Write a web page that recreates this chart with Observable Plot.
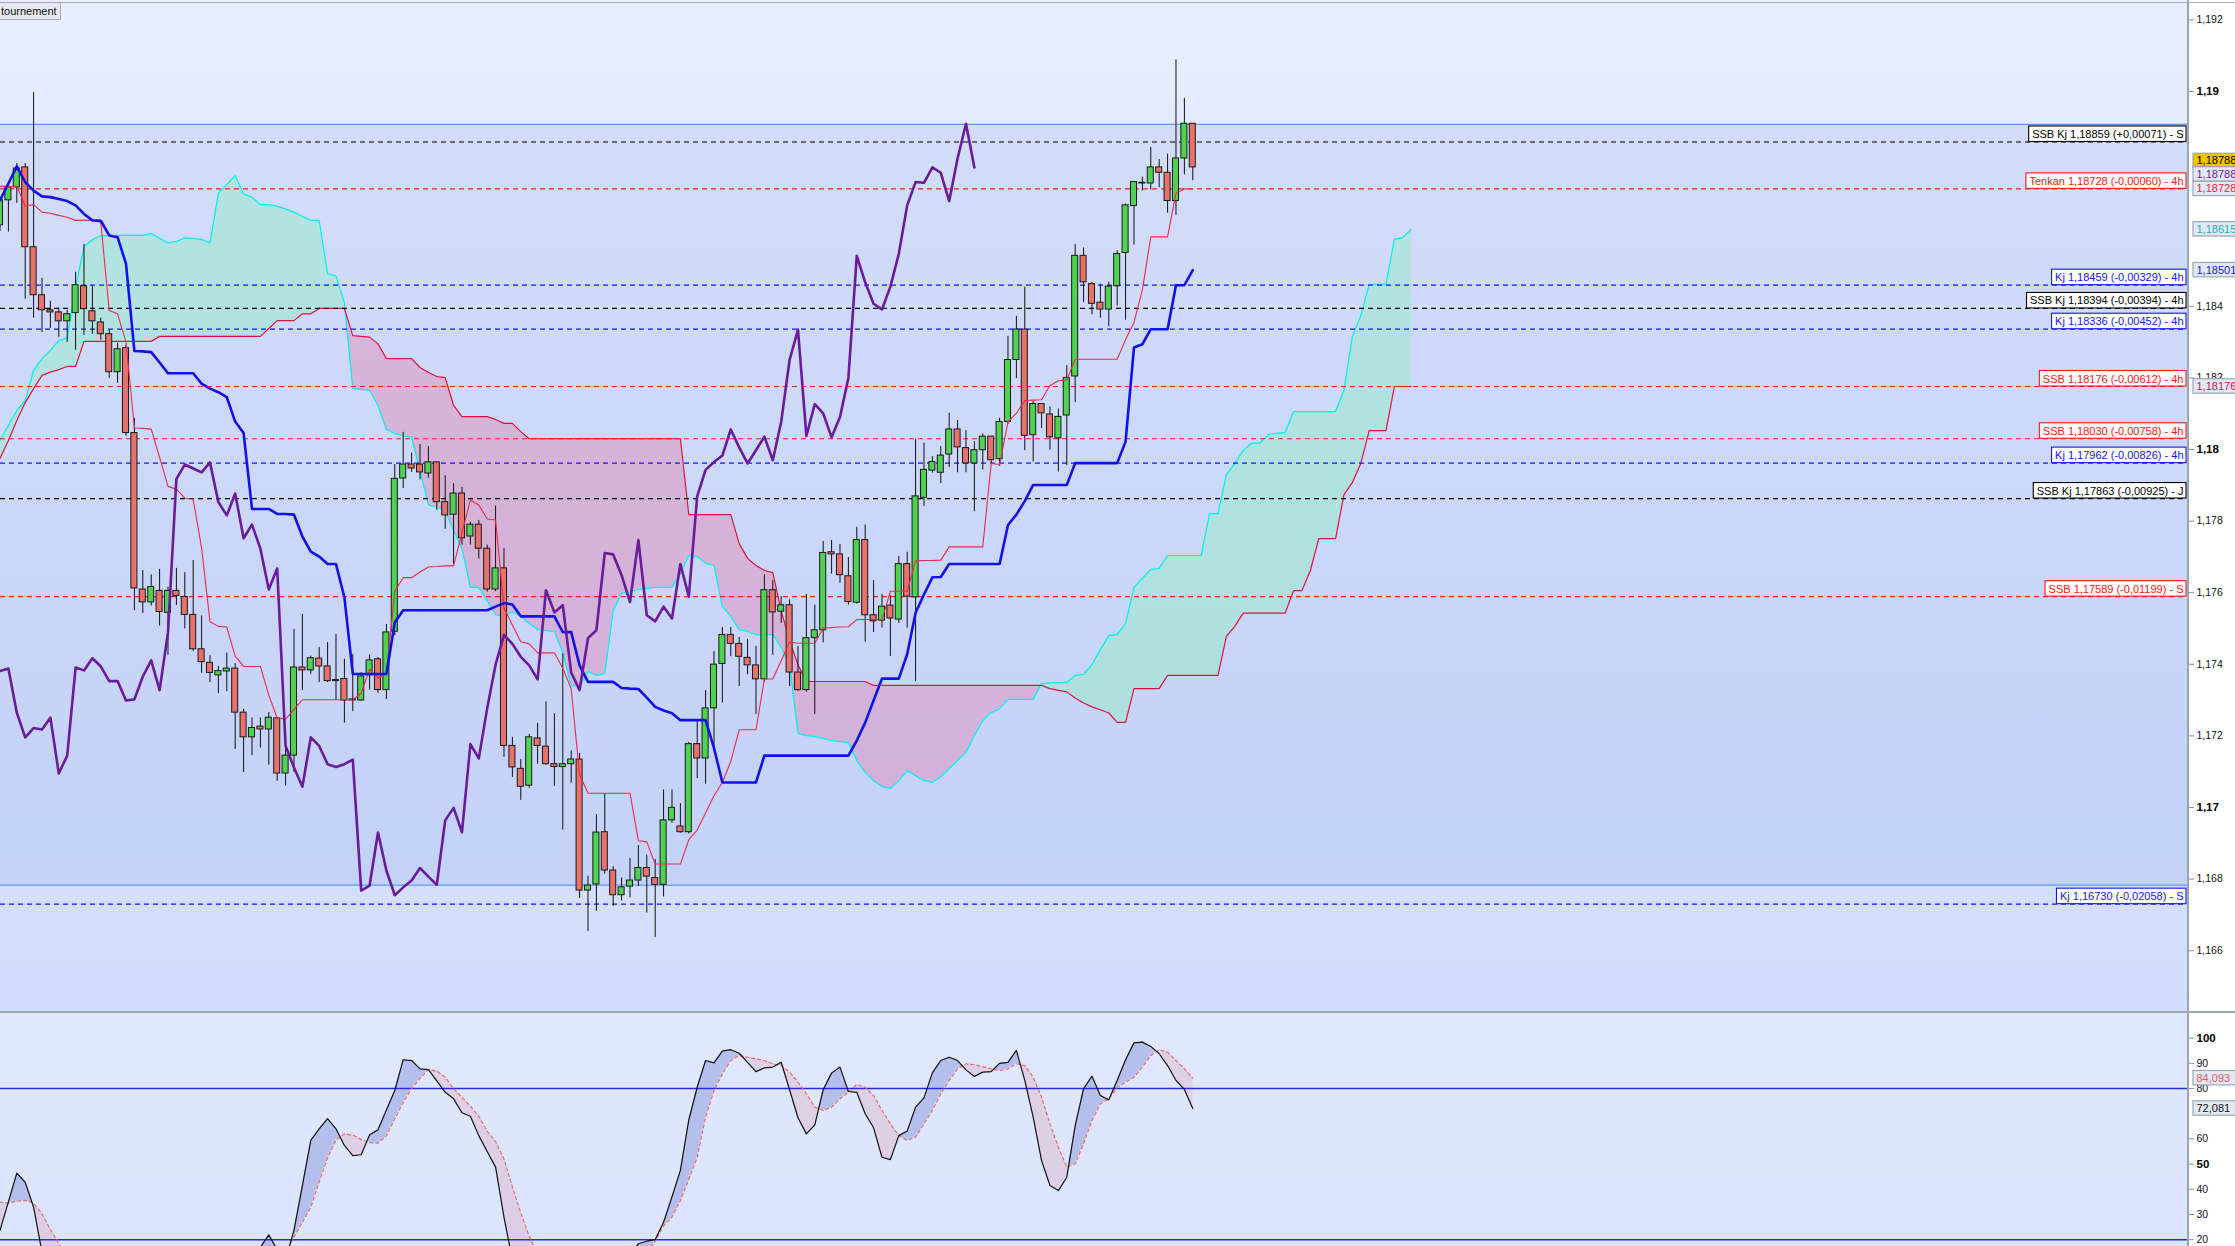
<!DOCTYPE html>
<html><head><meta charset="utf-8">
<script src="https://cdn.jsdelivr.net/npm/d3@7"></script>
<script src="https://cdn.jsdelivr.net/npm/@observablehq/plot@0.6"></script>
<style>
html,body{margin:0;padding:0;background:#fff;}
body{width:2235px;height:1246px;overflow:hidden;font-family:"Liberation Sans",Arial,Helvetica,sans-serif;}
#wrap{position:relative;width:2235px;height:1246px;}
#main{position:relative;width:2235px;height:1012px;background:linear-gradient(to right,rgba(255,255,255,0) 2188px,#ffffff 2188px),linear-gradient(to bottom,#e8eefd,#d1ddfc);}
#stoch{position:relative;width:2235px;height:234px;background:linear-gradient(to right,rgba(255,255,255,0) 2188px,#ffffff 2188px),linear-gradient(to bottom,#e0e8fd,#dae4fd);}
svg{display:block;}
.chrome{position:absolute;z-index:5;pointer-events:none;}
#tag{position:absolute;z-index:6;left:-1px;top:2px;height:16px;line-height:16px;padding:0 3px 0 1px;font-size:11px;color:#111;background:#e4e9f2;border:1px solid #a4acb6;}
</style></head>
<body>
<div id="wrap">
  <div id="main"></div>
  <div id="stoch"></div>
  <div class="chrome" style="left:2187px;top:0;width:1.5px;height:1246px;background:#9aa5b3"></div>
  <div class="chrome" style="left:0;top:2px;width:2235px;height:1px;background:#aab2bc"></div>
  <div class="chrome" style="left:0;top:1011px;width:2235px;height:2px;background:#9ea8b4"></div>
  <div id="tag">tournement</div>
</div>
<script>
// ---------------- DATA ----------------
const candleOpen = [
1.18626,1.18696,1.18732,1.18788,1.18565,1.18431,1.18389,1.18383,1.18358,1.18381,
1.18456,1.18386,1.18355,1.18322,1.18216,1.18283,1.18046,1.17609,1.17573,1.17605,
1.17544,1.17605,1.17588,1.17538,1.17442,1.17404,1.17369,1.17380,1.17388,1.17265,
1.17196,1.17226,1.17218,1.17249,1.17095,1.17145,1.17391,1.17383,1.17416,1.17394,
1.17356,1.17359,1.17299,1.17299,1.17369,1.17414,1.17328,1.17491,1.17919,1.17958,
1.17958,1.17933,1.17964,1.17853,1.17818,1.17877,1.17757,1.17790,1.17723,1.17609,
1.17668,1.17172,1.17108,1.17061,1.17193,1.17170,1.17121,1.17113,1.17121,1.17134,
1.16768,1.16785,1.16931,1.16824,1.16755,1.16779,1.16796,1.16831,1.16803,1.16784,
1.16964,1.16947,1.16931,1.17177,1.17137,1.17277,1.17401,1.17482,1.17457,1.17418,
1.17397,1.17358,1.17607,1.17547,1.17565,1.17377,1.17328,1.17473,1.17495,1.17713,
1.17707,1.17646,1.17572,1.17747,1.17537,1.17522,1.17564,1.17525,1.17680,1.17587,
1.17865,1.17941,1.17935,1.17986,1.18056,1.18004,1.17961,1.17998,1.18036,1.17973,
1.18077,1.18250,1.18335,1.18040,1.18127,1.18098,1.18031,1.18095,1.18204,1.18541,
1.18462,1.18410,1.18391,1.18456,1.18549,1.18680,1.18743,1.18743,1.18788,1.18773,
1.18694,1.18813,1.18910];
const candleHigh = [
1.18701,1.18735,1.18799,1.18799,1.18997,1.18478,1.18414,1.18395,1.18389,1.18495,
1.18573,1.18456,1.18367,1.18333,1.18297,1.18291,1.18087,1.17662,1.17650,1.17665,
1.17615,1.17668,1.17656,1.17690,1.17535,1.17424,1.17394,1.17431,1.17402,1.17274,
1.17250,1.17250,1.17265,1.17250,1.17176,1.17497,1.17539,1.17423,1.17447,1.17461,
1.17483,1.17414,1.17427,1.17377,1.17426,1.17419,1.17511,1.17958,1.18048,1.17990,
1.18014,1.18008,1.17964,1.17927,1.17905,1.17894,1.17797,1.17802,1.17733,1.17842,
1.17723,1.17196,1.17134,1.17204,1.17235,1.17295,1.17262,1.17429,1.17158,1.17151,
1.16808,1.16980,1.17039,1.16835,1.16803,1.16858,1.16894,1.16867,1.16855,1.17049,
1.17049,1.17011,1.17182,1.17241,1.17327,1.17436,1.17503,1.17503,1.17475,1.17469,
1.17450,1.17650,1.17634,1.17589,1.17580,1.17450,1.17595,1.17565,1.17743,1.17746,
1.17735,1.17698,1.17783,1.17789,1.17634,1.17595,1.17592,1.17701,1.17713,1.18028,
1.18018,1.17980,1.18008,1.18101,1.18081,1.18053,1.18022,1.18043,1.18036,1.18087,
1.18316,1.18372,1.18453,1.18134,1.18127,1.18119,1.18113,1.18234,1.18573,1.18563,
1.18467,1.18462,1.18467,1.18555,1.18686,1.18749,1.18761,1.18844,1.18810,1.18825,
1.19088,1.18981,1.18910];
const candleLow = [
1.18609,1.18607,1.18688,1.18420,1.18367,1.18327,1.18338,1.18313,1.18299,1.18277,
1.18319,1.18322,1.18305,1.18199,1.18185,1.18037,1.17550,1.17542,1.17563,1.17507,
1.17425,1.17564,1.17499,1.17436,1.17375,1.17349,1.17318,1.17324,1.17162,1.17098,
1.17145,1.17166,1.17118,1.17073,1.17060,1.17098,1.17327,1.17372,1.17349,1.17349,
1.17299,1.17236,1.17268,1.17297,1.17328,1.17319,1.17302,1.17480,1.17891,1.17936,
1.17915,1.17920,1.17830,1.17777,1.17679,1.17733,1.17733,1.17694,1.17602,1.17603,
1.17140,1.17084,1.17020,1.17054,1.17121,1.17118,1.17059,1.16937,1.17068,1.16746,
1.16654,1.16710,1.16814,1.16724,1.16739,1.16748,1.16779,1.16705,1.16637,1.16750,
1.16956,1.16928,1.16926,1.17081,1.17065,1.17162,1.17292,1.17421,1.17338,1.17371,
1.17260,1.17349,1.17425,1.17514,1.17338,1.17324,1.17322,1.17260,1.17460,1.17652,
1.17626,1.17565,1.17568,1.17462,1.17489,1.17501,1.17422,1.17514,1.17501,1.17352,
1.17841,1.17934,1.17905,1.17950,1.17935,1.17935,1.17826,1.17943,1.17961,1.17953,
1.18070,1.18198,1.17997,1.17965,1.18059,1.17998,1.17937,1.17955,1.18131,1.18410,
1.18376,1.18367,1.18343,1.18401,1.18361,1.18571,1.18722,1.18725,1.18731,1.18660,
1.18654,1.18767,1.18751];
const candleClose = [
1.18696,1.18732,1.18785,1.18565,1.18431,1.18389,1.18383,1.18358,1.18378,1.18459,
1.18392,1.18358,1.18322,1.18216,1.18280,1.18046,1.17612,1.17573,1.17616,1.17546,
1.17605,1.17591,1.17538,1.17442,1.17406,1.17376,1.17381,1.17388,1.17265,1.17196,
1.17222,1.17218,1.17251,1.17095,1.17145,1.17391,1.17383,1.17417,1.17394,1.17353,
1.17353,1.17299,1.17302,1.17366,1.17411,1.17328,1.17489,1.17918,1.17958,1.17947,
1.17936,1.17964,1.17853,1.17816,1.17877,1.17752,1.17790,1.17723,1.17609,1.17668,
1.17172,1.17112,1.17058,1.17196,1.17172,1.17121,1.17113,1.17121,1.17134,1.16768,
1.16782,1.16930,1.16824,1.16755,1.16777,1.16796,1.16831,1.16807,1.16784,1.16964,
1.16999,1.16931,1.17177,1.17137,1.17277,1.17399,1.17482,1.17457,1.17421,1.17397,
1.17358,1.17607,1.17545,1.17565,1.17377,1.17328,1.17473,1.17495,1.17711,1.17707,
1.17649,1.17574,1.17747,1.17537,1.17520,1.17561,1.17528,1.17680,1.17589,1.17869,
1.17943,1.17965,1.17983,1.18056,1.18006,1.17961,1.17998,1.18036,1.17970,1.18077,
1.18250,1.18335,1.18038,1.18127,1.18101,1.18034,1.18091,1.18200,1.18541,1.18467,
1.18407,1.18391,1.18455,1.18546,1.18682,1.18747,1.18745,1.18788,1.18773,1.18694,
1.18813,1.18910,1.18788];

const tenkan = [
1.18735,1.18735,1.18735,1.18680,1.18684,1.18663,1.18660,1.18654,1.18649,1.18640,
1.18640,1.18640,1.18635,1.18388,1.18379,1.18300,1.18060,1.18059,1.18057,1.17978,
1.17897,1.17889,1.17864,1.17861,1.17725,1.17519,1.17506,1.17504,1.17423,1.17394,
1.17394,1.17394,1.17314,1.17250,1.17247,1.17274,1.17301,1.17301,1.17301,1.17301,
1.17301,1.17301,1.17301,1.17319,1.17386,1.17362,1.17373,1.17604,1.17642,1.17642,
1.17658,1.17672,1.17673,1.17675,1.17675,1.17768,1.17859,1.17845,1.17806,1.17803,
1.17557,1.17510,1.17463,1.17457,1.17432,1.17432,1.17432,1.17389,1.17332,1.17092,
1.17040,1.17040,1.17040,1.17040,1.17040,1.17040,1.16907,1.16904,1.16842,1.16842,
1.16842,1.16842,1.16910,1.16937,1.16985,1.17033,1.17070,1.17129,1.17217,1.17217,
1.17217,1.17359,1.17359,1.17410,1.17462,1.17459,1.17459,1.17459,1.17501,1.17503,
1.17504,1.17505,1.17525,1.17525,1.17525,1.17525,1.17604,1.17604,1.17604,1.17689,
1.17690,1.17690,1.17691,1.17728,1.17728,1.17728,1.17728,1.17728,1.17961,1.17958,
1.18077,1.18101,1.18137,1.18138,1.18139,1.18179,1.18192,1.18194,1.18252,1.18252,
1.18252,1.18252,1.18252,1.18252,1.18307,1.18355,1.18446,1.18594,1.18594,1.18594,
1.18716,1.18728,1.18728];

const kijun = [
1.18696,1.18743,1.18791,1.18747,1.18723,1.18707,1.18705,1.18700,1.18694,1.18682,
1.18658,1.18640,1.18639,1.18598,1.18593,1.18519,1.18275,1.18274,1.18272,1.18243,
1.18213,1.18213,1.18213,1.18213,1.18184,1.18170,1.18160,1.18146,1.18078,1.18046,
1.17834,1.17834,1.17834,1.17820,1.17820,1.17818,1.17757,1.17715,1.17701,1.17680,
1.17680,1.17587,1.17373,1.17373,1.17373,1.17373,1.17373,1.17517,1.17551,1.17551,
1.17551,1.17551,1.17551,1.17551,1.17551,1.17551,1.17551,1.17551,1.17551,1.17561,
1.17571,1.17567,1.17534,1.17534,1.17534,1.17534,1.17534,1.17490,1.17490,1.17397,
1.17351,1.17351,1.17351,1.17351,1.17334,1.17332,1.17331,1.17307,1.17281,1.17271,
1.17263,1.17244,1.17244,1.17244,1.17244,1.17166,1.17070,1.17070,1.17070,1.17070,
1.17070,1.17145,1.17145,1.17145,1.17145,1.17145,1.17145,1.17145,1.17145,1.17145,
1.17145,1.17145,1.17187,1.17237,1.17299,1.17360,1.17360,1.17360,1.17428,1.17544,
1.17595,1.17643,1.17644,1.17680,1.17680,1.17680,1.17680,1.17680,1.17680,1.17680,
1.17789,1.17818,1.17856,1.17901,1.17901,1.17901,1.17901,1.17901,1.17962,1.17962,
1.17962,1.17962,1.17962,1.17962,1.18022,1.18285,1.18294,1.18336,1.18336,1.18336,
1.18459,1.18459,1.18501];

// Senkou spans, already drawn 26 periods ahead (index 0 .. 168)
const senkouA = [
1.18025,1.18067,1.18109,1.18137,1.18221,1.18253,1.18277,1.18304,1.18311,1.18453,
1.18567,1.18586,1.18597,1.18598,1.18598,1.18598,1.18598,1.18598,1.18603,1.18590,
1.18577,1.18581,1.18591,1.18589,1.18587,1.18577,1.18716,1.18740,1.18765,1.18714,
1.18705,1.18684,1.18684,1.18679,1.18672,1.18663,1.18651,1.18640,1.18640,1.18491,
1.18485,1.18411,1.18170,1.18168,1.18165,1.18123,1.18056,1.18045,1.18039,1.18034,
1.17941,1.17846,1.17838,1.17830,1.17774,1.17723,1.17615,1.17615,1.17578,1.17539,
1.17534,1.17547,1.17534,1.17514,1.17497,1.17494,1.17492,1.17433,1.17341,1.17338,
1.17380,1.17369,1.17374,1.17550,1.17598,1.17603,1.17609,1.17612,1.17615,1.17615,
1.17615,1.17654,1.17704,1.17701,1.17682,1.17676,1.17561,1.17534,1.17497,1.17492,
1.17483,1.17483,1.17483,1.17447,1.17399,1.17207,1.17201,1.17198,1.17193,1.17187,
1.17184,1.17181,1.17131,1.17098,1.17075,1.17059,1.17053,1.17075,1.17103,1.17089,
1.17075,1.17070,1.17086,1.17109,1.17131,1.17154,1.17201,1.17243,1.17265,1.17276,
1.17302,1.17302,1.17302,1.17302,1.17346,1.17348,1.17349,1.17349,1.17369,1.17372,
1.17399,1.17441,1.17480,1.17483,1.17514,1.17615,1.17640,1.17665,1.17668,1.17704,
1.17704,1.17704,1.17704,1.17704,1.17821,1.17821,1.17930,1.17961,1.17997,1.18018,
1.18018,1.18042,1.18045,1.18048,1.18106,1.18106,1.18106,1.18106,1.18106,1.18106,
1.18165,1.18316,1.18374,1.18461,1.18461,1.18461,1.18587,1.18592,1.18615];
const senkouB = [
1.17975,1.18025,1.18081,1.18131,1.18170,1.18207,1.18216,1.18223,1.18232,1.18232,
1.18302,1.18302,1.18302,1.18302,1.18302,1.18302,1.18302,1.18302,1.18302,1.18316,
1.18316,1.18316,1.18316,1.18316,1.18316,1.18316,1.18316,1.18316,1.18316,1.18316,
1.18316,1.18316,1.18338,1.18360,1.18360,1.18360,1.18379,1.18379,1.18394,1.18394,
1.18394,1.18394,1.18318,1.18316,1.18314,1.18295,1.18254,1.18254,1.18254,1.18254,
1.18229,1.18215,1.18204,1.18201,1.18123,1.18092,1.18092,1.18092,1.18092,1.18084,
1.18073,1.18073,1.18050,1.18030,1.18030,1.18030,1.18030,1.18030,1.18030,1.18030,
1.18030,1.18030,1.18030,1.18030,1.18030,1.18030,1.18030,1.18030,1.18030,1.18030,
1.18030,1.18030,1.17818,1.17818,1.17818,1.17818,1.17818,1.17818,1.17737,1.17696,
1.17676,1.17662,1.17656,1.17550,1.17466,1.17399,1.17352,1.17352,1.17352,1.17352,
1.17352,1.17352,1.17352,1.17352,1.17341,1.17341,1.17341,1.17341,1.17341,1.17341,
1.17341,1.17341,1.17341,1.17341,1.17341,1.17341,1.17341,1.17341,1.17341,1.17341,
1.17341,1.17341,1.17341,1.17341,1.17341,1.17332,1.17327,1.17323,1.17306,1.17292,
1.17281,1.17273,1.17264,1.17238,1.17238,1.17332,1.17332,1.17332,1.17332,1.17369,
1.17369,1.17369,1.17369,1.17369,1.17369,1.17369,1.17478,1.17506,1.17543,1.17543,
1.17543,1.17543,1.17543,1.17543,1.17606,1.17606,1.17662,1.17751,1.17751,1.17751,
1.17874,1.17908,1.17961,1.18053,1.18053,1.18053,1.18176,1.18176,1.18176];

const chikouShift = 26;

// horizontal levels with their boxed labels
const levelNames  = ["SSB Kj","Tenkan","Kj","SSB Kj","Kj","SSB","SSB","Kj","SSB Kj","SSB","Kj"];
const levelValues = [1.18859,1.18728,1.18459,1.18394,1.18336,1.18176,1.18030,1.17962,1.17863,1.17589,1.16730];
const levelDeltas = ["+0,00071","-0,00060","-0,00329","-0,00394","-0,00452","-0,00612","-0,00758","-0,00826","-0,00925","-0,01199","-0,02058"];
const levelFrames = ["S","4h","4h","4h","4h","4h","4h","4h","J","S","S"];

// range band (light blue lines)
const rangeBand = [1.16783, 1.18908];

// right-axis value tags
const tagValues = [1.18788, 1.18788, 1.18728, 1.18615, 1.18501, 1.18176];
const tagText   = ["#000000", "#6a1b9a", "#ee1c3c", "#12b2b2", "#1a1ae6", "#d0143c"];
const tagFill   = ["#f3c200", "#e2e8f5", "#e2e8f5", "#e2e8f5", "#e2e8f5", "#e2e8f5"];
const tagShift  = [-6.5, 7, 0, 0, 0, 0];

// axis ticks (1,186 and 1,188 sit under value tags)
const priceTicks = [1.166,1.168,1.172,1.174,1.176,1.178,1.182,1.184,1.192];
const priceTicksBold = [1.17,1.18,1.19];

// Stochastic
const stochK = [
23.7,35,46.4,42.8,32.9,15,9,6,5,6,
5,4,4,3,5,4,3,5,7,6,
8,7,6,5,4,6,8,9,7,10,
13,17,21.9,16,12,23.7,41.5,59.4,64,68,
64,57.4,53.4,53.7,61.6,63.6,71.5,79.2,91.4,91.1,
87.8,87.5,83,78.5,75.9,70.4,69,61.3,55,48.8,
28.9,12,8,6,5,4,5,6,4,3,
5,8,7,6,9,14,18.4,19.4,20,26.9,
37,47.5,67.5,80.5,91.1,90.2,94.8,95.4,94,90.4,
86.7,88.2,88.5,90.4,79.5,68.4,62,65.6,79.5,86.1,
88.5,78.8,78.5,70,64.4,52.7,51.8,61.3,63.1,72.6,
76.3,86.2,91.1,92.4,91.1,87.4,84.8,86.5,86.7,90,
90.4,95.1,83.2,68.6,51.4,41.5,39.5,44.8,65.3,79.9,
84.9,77.2,75.5,83.2,91.4,98.1,98.4,96.7,93.8,89.1,
83.2,79.6,72.081];
const stochD = [
34.9,34.5,35.2,35.6,34.6,30.3,24,18.5,13,9,
7,6,5,4,4,4,4,4,5,6,
7,7,7,6,5,5,6,8,8,9,
10,13,17,16.5,15,21,27,32.9,43,52.5,
59.5,62,61.5,59.8,58.5,58.3,61.3,68,74.5,80,
84,87.5,87,84.5,80,76.5,73,69,63,59,
52,41,30.5,21.5,14,8,6,5,5,4,
4,5,6,7,7,10,12,14,19.5,25.5,
29,35.5,44,52.7,68.6,79.2,85.8,91.1,93.1,92.4,
91.8,91.1,89.8,89.1,86.5,82.5,77.9,72.6,71.3,72.6,
75.9,78.5,81.6,80.5,77.2,71.3,66,61.3,59.4,60.7,
66,71.3,77.9,83.2,87.8,89.8,89.4,88.7,87.8,87.1,
87.8,89.8,89.1,84.5,76.5,66,56.7,48.8,50.1,58.1,
67.3,73.9,75.9,80.3,82.5,84.5,88.5,93.1,95.4,94.4,
91.1,87.8,84.093];
const stochLevels = [20, 80];
const stochTicks = [20,30,40,60,80,90];   // 70 sits under the 72,081 tag
const stochTicksBold = [50,100];
const stochTagValues = [84.093, 72.081];
const stochTagText = ["#e85a5a", "#111111"];

// ---------------- LAYOUT / STYLE ----------------
const FONT = "'Liberation Sans', Arial, Helvetica, sans-serif";
const W = 2235, MR = 47, FRAME_RIGHT = W - MR;
const xDomain = [0.0595, 260.54];
const yDomainMain = [1.164274, 1.192542];
const yDomainStoch = [17.3, 110.16];
const levelColor = {"SSB Kj":"#000000","Tenkan":"#ff1414","SSB":"#ff1414","Kj":"#1414ff"};
const LABEL_FONT = 11, LABEL_DX = -5, LABEL_DY = -7.5, TAG_DX = 8;

const comma = (v, d) => v.toFixed(d).replace(".", ",");
const tickFmt = v => { let s = v.toFixed(3); s = s.replace(/0+$/, ""); return s.replace(".", ","); };

const candles = candleOpen.map((o, i) => ({i, o, h: candleHigh[i], l: candleLow[i], c: candleClose[i]}));
const toSeries = arr => arr.map((v, i) => ({i, v}));
const chikou = candleClose.slice(chikouShift).map((v, j) => ({i: j, v}));
const levels = levelNames.map((n, k) => ({
  value: levelValues[k], color: levelColor[n],
  label: `${n} ${comma(levelValues[k], 5)} (${levelDeltas[k]}) - ${levelFrames[k]}`
}));

function withCross(a, b) {
  const out = [];
  for (let i = 0; i < a.length; i++) {
    out.push({i, a: a[i], b: b[i]});
    if (i + 1 < a.length) {
      const d0 = a[i] - b[i], d1 = a[i + 1] - b[i + 1];
      if (d0 * d1 < 0) {
        const t = d0 / (d0 - d1);
        const v = a[i] + t * (a[i + 1] - a[i]);
        out.push({i: i + t, a: v, b: v});
      }
    }
  }
  return out;
}
const cloud = withCross(senkouA, senkouB);
const stochFill = withCross(stochK, stochD);

// ---------------- MAIN PANEL ----------------
const mainMarks = [
  Plot.rect([rangeBand], {y1: d => d[0], y2: d => d[1], fill: "rgb(110,140,232)", fillOpacity: 0.16}),
  Plot.ruleY(rangeBand, {stroke: "#5f97f5", strokeWidth: 1.2}),
  Plot.area(cloud, {x1: "i", y1: "b", y2: d => Math.max(d.a, d.b), fill: "rgb(150,235,200)", fillOpacity: 0.5}),
  Plot.area(cloud, {x1: "i", y1: "a", y2: d => Math.max(d.a, d.b), fill: "rgb(222,150,192)", fillOpacity: 0.55}),
  Plot.lineY(toSeries(senkouA), {x: "i", y: "v", stroke: "#00f0f0", strokeWidth: 1.2}),
  Plot.lineY(toSeries(senkouB), {x: "i", y: "v", stroke: "#dc143c", strokeWidth: 1.2}),
  Plot.ruleY(levels, {y: "value", stroke: "color", strokeDasharray: "5,4", strokeWidth: 1.2}),
  Plot.ruleX(candles, {x: "i", y1: "l", y2: "h", stroke: "#111", strokeWidth: 1}),
  Plot.rect(candles, {x1: d => d.i - 0.36, x2: d => d.i + 0.36, y1: "o", y2: "c",
    fill: d => d.c >= d.o ? "#4fd24f" : "#e8716a", stroke: "#1a1a1a", strokeWidth: 1}),
  Plot.lineY(toSeries(tenkan), {x: "i", y: "v", stroke: "#f0284a", strokeWidth: 1.1}),
  Plot.lineY(toSeries(kijun), {x: "i", y: "v", stroke: "#1212e8", strokeWidth: 2.6}),
  Plot.lineY(chikou, {x: "i", y: "v", stroke: "#6a1b9a", strokeWidth: 2.6}),
  Plot.axisY(priceTicks, {anchor: "right", tickFormat: tickFmt, fontSize: 10.5, tickSize: 5, tickPadding: 3,
    stroke: "#8893a2", fill: "#111"}),
  Plot.axisY(priceTicksBold, {anchor: "right", tickFormat: tickFmt, fontSize: 11.5, fontWeight: "bold", tickSize: 5,
    tickPadding: 3, stroke: "#8893a2", fill: "#000"}),
  Plot.text(levels, {y: "value", text: "label", frameAnchor: "right", textAnchor: "end", dx: LABEL_DX, dy: LABEL_DY,
    fill: "color", fontSize: LABEL_FONT, ariaDescription: "levelLabels"})
];
tagValues.forEach((v, k) => {
  mainMarks.push(Plot.text([v], {y: d => d, text: d => comma(d, 5), frameAnchor: "right", textAnchor: "start",
    dx: TAG_DX, dy: tagShift[k], fill: tagText[k], fontSize: 11, ariaDescription: "tag" + k}));
});

const mainPlot = Plot.plot({
  width: W, height: 1012, marginLeft: 0, marginRight: MR, marginTop: 0, marginBottom: 0,
  x: {type: "linear", domain: xDomain, axis: null},
  y: {type: "linear", domain: yDomainMain, axis: null},
  color: {type: "identity"},
  style: {background: "transparent", fontFamily: FONT, overflow: "visible"},
  marks: mainMarks
});
document.getElementById("main").appendChild(mainPlot);

// ---------------- STOCHASTIC PANEL ----------------
const stochMarks = [
  Plot.area(stochFill, {x1: "i", y1: "b", y2: d => Math.max(d.a, d.b), fill: "rgb(140,152,222)", fillOpacity: 0.5, clip: true}),
  Plot.area(stochFill, {x1: "i", y1: "a", y2: d => Math.max(d.a, d.b), fill: "rgb(222,186,206)", fillOpacity: 0.5, clip: true}),
  Plot.ruleY(stochLevels, {stroke: "#2a2ae2", strokeWidth: 1.5}),
  Plot.lineY(toSeries(stochD), {x: "i", y: "v", stroke: "#e86a6a", strokeWidth: 1.2, strokeDasharray: "3,3", clip: true}),
  Plot.lineY(toSeries(stochK), {x: "i", y: "v", stroke: "#111", strokeWidth: 1.2, clip: true}),
  Plot.axisY(stochTicks, {anchor: "right", fontSize: 10.5, tickSize: 5, tickPadding: 3, stroke: "#8893a2", fill: "#111"}),
  Plot.axisY(stochTicksBold, {anchor: "right", fontSize: 11.5, fontWeight: "bold", tickSize: 5, tickPadding: 3,
    stroke: "#8893a2", fill: "#000"})
];
stochTagValues.forEach((v, k) => {
  stochMarks.push(Plot.text([v], {y: d => d, text: d => comma(d, 3), frameAnchor: "right", textAnchor: "start",
    dx: TAG_DX, fill: stochTagText[k], fontSize: 11, ariaDescription: "stag" + k}));
});
const stochPlot = Plot.plot({
  width: W, height: 234, marginLeft: 0, marginRight: MR, marginTop: 0, marginBottom: 0,
  x: {type: "linear", domain: xDomain, axis: null},
  y: {type: "linear", domain: yDomainStoch, axis: null},
  color: {type: "identity"},
  style: {background: "transparent", fontFamily: FONT, overflow: "visible"},
  marks: stochMarks
});
document.getElementById("stoch").appendChild(stochPlot);

// ---------------- label boxes (drawn behind each text group) ----------------
const ctx = document.createElement("canvas").getContext("2d");
function textWidth(s, size) { ctx.font = `${size}px 'Liberation Sans', Arial, sans-serif`; return ctx.measureText(s).width; }
function findGroup(svg, key) {
  return Array.from(svg.querySelectorAll("g")).find(g => g.getAttribute("aria-description") === key);
}
function addRect(group, x, y, w, h, fill, stroke) {
  const r = document.createElementNS("http://www.w3.org/2000/svg", "rect");
  r.setAttribute("x", x); r.setAttribute("y", y); r.setAttribute("width", w); r.setAttribute("height", h);
  r.setAttribute("fill", fill); r.setAttribute("stroke", stroke); r.setAttribute("stroke-width", 1.1);
  group.parentNode.insertBefore(r, group);
}
const yMain = mainPlot.scale("y"), yStoch = stochPlot.scale("y");
const lg = findGroup(mainPlot, "levelLabels");
if (lg) levels.forEach(L => {
  const py = yMain.apply(L.value);
  const w = textWidth(L.label, LABEL_FONT);
  const right = FRAME_RIGHT + LABEL_DX + 3;
  addRect(lg, right - w - 6, py - 15.5, w + 6, 15.5, "#ffffff", L.color);
});
tagValues.forEach((v, k) => {
  const g = findGroup(mainPlot, "tag" + k);
  if (!g) return;
  const py = yMain.apply(v) + tagShift[k];
  addRect(g, FRAME_RIGHT + TAG_DX - 3, py - 7.2, 60, 14.4, tagFill[k], "#97a0ae");
});
stochTagValues.forEach((v, k) => {
  const g = findGroup(stochPlot, "stag" + k);
  if (!g) return;
  const py = yStoch.apply(v);
  addRect(g, FRAME_RIGHT + TAG_DX - 3, py - 7.2, 60, 14.4, "#e2e8f5", "#97a0ae");
});
</script>
</body></html>
